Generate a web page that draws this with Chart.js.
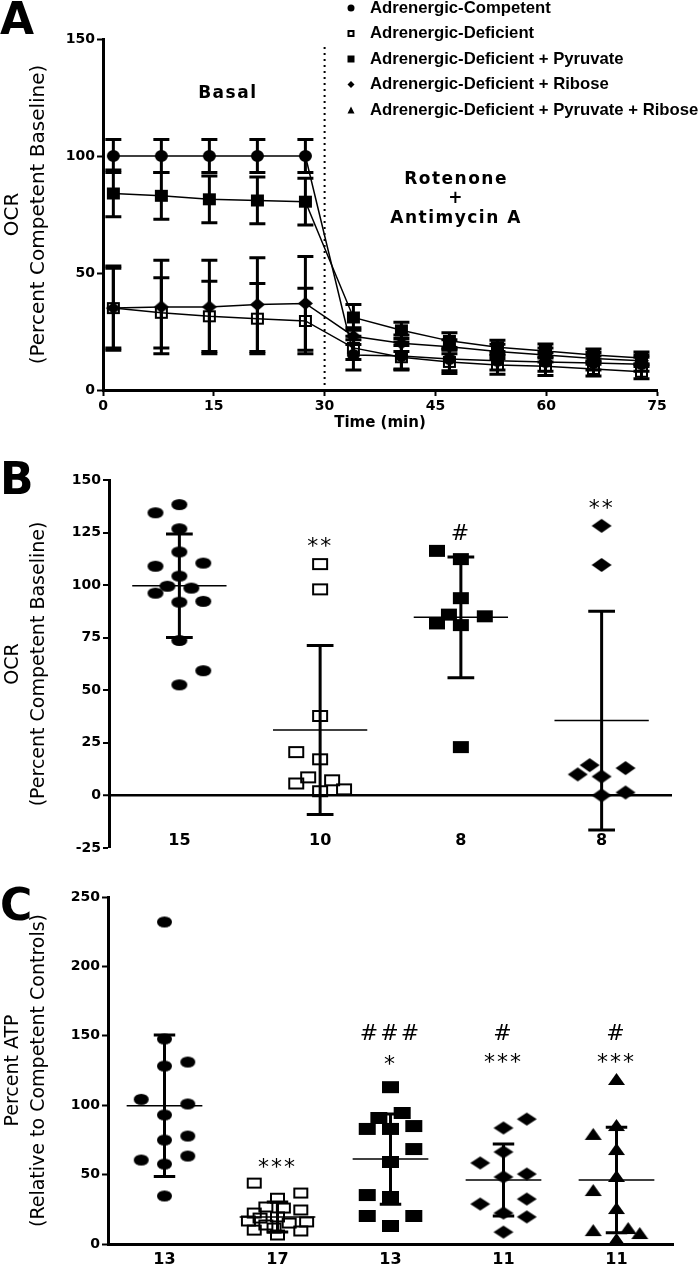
<!DOCTYPE html>
<html lang="en">
<head>
<meta charset="UTF-8">
<title>OCR and ATP in adrenergic-deficient cells</title>
<script src="https://cdn.jsdelivr.net/npm/chart.js@4.4.0/dist/chart.umd.min.js"></script>
<style>
body { margin: 0; background: #fff; }
#wrap { position: relative; width: 700px; height: 1269px; }
canvas { position: absolute; left: 0; }
</style>
</head>
<body>
<div id="wrap">
<canvas id="panelA" width="700" height="435" style="top:0"></canvas>
<canvas id="panelB" width="700" height="425" style="top:435px"></canvas>
<canvas id="panelC" width="700" height="409" style="top:860px"></canvas>
</div>

<script>
// groups (legend of panel A, columns of B and C)
var groupNames = ['Adrenergic-Competent', 'Adrenergic-Deficient', 'Adrenergic-Deficient + Pyruvate',
                  'Adrenergic-Deficient + Ribose', 'Adrenergic-Deficient + Pyruvate + Ribose'];
var groupShapes = ['circle', 'openSquare', 'square', 'diamond', 'triangle'];

// panel A: OCR time course (mean and SD)
var timeMin = [1.4, 7.9, 14.4, 20.9, 27.4, 33.9, 40.4, 46.9, 53.4, 59.9, 66.4, 72.9];
var injectTime = 30;
var ocrCompetent = [100, 100, 100, 100, 100, 15, 14.5, 13.2, 12.5, 12, 11.5, 11];
var sdCompetent  = [7, 7, 7, 7, 7, 6.5, 6, 5, 4, 4, 3, 3];
var ocrDeficient = [35, 33, 31.5, 30.5, 29.5, 18, 14, 12, 10.7, 10.2, 9, 7.8];
var sdDeficient  = [18, 15, 15, 15, 14, 5, 5, 5, 4, 4, 3, 3];
var ocrPyruvate  = [84, 83, 81.5, 81, 80.5, 31, 25.5, 21, 18.3, 16.7, 15, 13.7];
var sdPyruvate   = [10, 10, 10, 10, 10, 5.5, 3.5, 3.5, 3, 3, 2.5, 2.5];
var ocrRibose    = [35, 35.5, 35.5, 36.5, 37, 23, 20, 18.5, 16.5, 15, 13.5, 12.5];
var sdRibose     = [17, 20, 20, 20, 20, 3.6, 3.5, 3, 3, 3, 2.5, 2.5];

// panel B: basal OCR per cell (jitter = column slot inside the group)
var ocrB = [
  [134.4, 138.3, 126.8, 115.8, 109, 110.5, 104.3, 99.5, 98.6, 96.2, 91.9, 92.3, 73.7, 59.3, 52.6],
  [110, 98, 37.8, 20.6, 17.2, 8.6, 5.7, 7.2, 2, 2.9],
  [116.3, 112.4, 93.8, 86, 81.8, 81, 85.2, 23],
  [128.2, 109.6, 14.4, 10, 13, 9, 0, 1.4]
];
var jitterB = [
  [-2, 0, 0, 0, -2, 2, 0, -1, 1, -2, 0, 2, 0, 2, 0],
  [0, 0, 0, -2, 0, -1, -2, 1, 0, 2],
  [-2, 0, 0, -1, -2, 0, 2, 0],
  [0, 0, -1, -2, 2, 0, 0, 2]
];
var meanB = [99.7, 31.1, 84.7, 35.6];
var sdB = [24.6, 40.2, 28.7, 52];
var nB = [15, 10, 8, 8];
var starsB = ['', '**', '#', '**'];
var starsBAt = [0, 120.5, 125.4, 138.8];

// panel C: ATP per cell
var atpC = [
  [232, 147.7, 128.2, 131.1, 104.2, 100.9, 93, 77.8, 74.9, 60.5, 63.4, 57.6, 34.6],
  [43.9, 33, 36.7, 26.7, 24.5, 22.3, 16.6, 15.9, 19.5, 13.7, 15.1, 10, 11.5, 9.4, 6.5, 18.7, 25.9],
  [113, 90.8, 94.4, 82.9, 82.9, 85, 68.4, 59.1, 35.3, 33.9, 20.2, 20.2, 13],
  [90, 83.6, 66.3, 58.4, 50.4, 48.3, 28.8, 32.4, 22.3, 19.5, 8.6],
  [118.9, 85.7, 79.3, 68.4, 49, 38.9, 25.9, 10, 11.5, 7.9, 3.6]
];
var jitterC = [
  [0, 0, 0, 2, -2, 2, 0, 2, 0, -2, 2, 0, 0],
  [-2, 0, 2, -1, 2, -2, -2.5, 2.5, 0, -1, 1, -2, -0.3, 2, 0, -1.5, 0.5],
  [0, -1, 1, -2, 0, 2, 2, 0, -2, 0, -2, 2, 0],
  [2, 0, 0, -2, 2, 0, -2, 2, 0, 2, 0],
  [0, 0, -2, 0, 0, -2, 0, -2, 1, 2, 0]
];
var meanC = [99.6, 19.5, 61.2, 46.1, 46.1];
var sdC = [51, 10.8, 32.5, 26, 38];
var nC = [13, 17, 13, 11, 11];
var hashC = ['', '', '###', '#', '#'];
var hashCAt = [0, 0, 152.7, 152.7, 152.7];
var starsC = ['', '***', '*', '***', '***'];
var starsCAt = [0, 58, 132.6, 134, 134];

Chart.defaults.font.family = 'DejaVu Sans';
Chart.defaults.color = '#000';

var tickFont = { family: 'DejaVu Sans', weight: 'bold', size: 14 };
var titleFont = { family: 'DejaVu Sans', size: 19, lineHeight: 1.37 };
var countFont = { family: 'DejaVu Sans', weight: 'bold', size: 16 };

function drawShape(g, shape, x, y, w, h) {
  g.fillStyle = '#000';
  g.strokeStyle = '#000';
  g.beginPath();
  if (shape === 'circle') {
    g.ellipse(x, y, w / 2, h / 2, 0, 0, Math.PI * 2);
  } else if (shape === 'square') {
    g.rect(x - w / 2, y - h / 2, w, h);
  } else if (shape === 'openSquare') {
    g.rect(x - w / 2 + 1, y - h / 2 + 1, w - 2, h - 2);
  } else if (shape === 'diamond') {
    g.moveTo(x, y - h / 2); g.lineTo(x + w / 2, y); g.lineTo(x, y + h / 2); g.lineTo(x - w / 2, y);
    g.closePath();
  } else {
    g.moveTo(x, y - h / 2); g.lineTo(x + w / 2, y + h / 2); g.lineTo(x - w / 2, y + h / 2);
    g.closePath();
  }
  if (shape === 'openSquare') { g.lineWidth = 2; g.stroke(); } else { g.fill(); }
}

function marker(shape, w, h) {
  var c = document.createElement('canvas');
  c.width = w + 2;
  c.height = h + 2;
  drawShape(c.getContext('2d'), shape, c.width / 2, c.height / 2, w, h);
  return c;
}

function centerText(ctx, text, x, y) {
  var m = ctx.measureText(text);
  ctx.textAlign = 'center';
  ctx.textBaseline = 'alphabetic';
  ctx.fillText(text, x, y + (m.actualBoundingBoxAscent - m.actualBoundingBoxDescent) / 2);
}

function panelLetter(ctx, letter, y) {
  ctx.save();
  ctx.fillStyle = '#000';
  ctx.font = 'bold 44px "DejaVu Sans"';
  ctx.textAlign = 'left';
  ctx.textBaseline = 'alphabetic';
  ctx.fillText(letter, 0, y);
  ctx.restore();
}

function yTicks(step, lo, hi, width) {
  return {
    min: lo, max: hi,
    border: { display: true, color: '#000', width: 3 },
    grid: { drawOnChartArea: false, drawTicks: true, tickLength: 6, tickWidth: 2, tickColor: '#000' },
    ticks: { stepSize: step, font: tickFont, color: '#000', padding: 2 },
    afterFit: function (s) { s.width = width; }
  };
}

// one tick per group, labelled with its n
function groupTicks(counts) {
  return function (s) {
    s.ticks = counts.map(function (n, i) { return { value: i }; });
  };
}

// ---------- panel A ----------
var sizeA = { circle: [13, 12], openSquare: [13, 12], square: [13, 12], diamond: [15, 13], triangle: [13, 12] };
function seriesA(idx, vals, sds) {
  var s = groupShapes[idx];
  return {
    label: groupNames[idx],
    data: vals.map(function (v, i) { return { x: timeMin[i], y: v }; }),
    sd: sds,
    borderColor: '#000', borderWidth: 1.5, tension: 0,
    pointStyle: marker(s, sizeA[s][0], sizeA[s][1]), pointRadius: 6
  };
}

var panelAExtras = {
  id: 'panelAExtras',
  beforeDatasetsDraw: function (chart) {
    var ctx = chart.ctx, xs = chart.scales.x, area = chart.chartArea;
    var px = xs.getPixelForValue(injectTime);
    ctx.save();
    ctx.strokeStyle = '#000';
    ctx.lineWidth = 2;
    ctx.setLineDash([2, 4]);
    ctx.beginPath();
    ctx.moveTo(px, area.top + 8);
    ctx.lineTo(px, area.bottom);
    ctx.stroke();
    ctx.restore();
  },
  afterDatasetsDraw: function (chart) {
    var ctx = chart.ctx, xs = chart.scales.x, ys = chart.scales.y;
    ctx.save();
    ctx.strokeStyle = '#000';
    ctx.lineWidth = 3;
    chart.data.datasets.forEach(function (ds) {
      ds.data.forEach(function (p, i) {
        var px = xs.getPixelForValue(p.x);
        var top = ys.getPixelForValue(p.y + ds.sd[i]);
        var bot = ys.getPixelForValue(p.y - ds.sd[i]);
        ctx.beginPath();
        ctx.moveTo(px, top); ctx.lineTo(px, bot);
        ctx.moveTo(px - 8, top); ctx.lineTo(px + 8, top);
        ctx.moveTo(px - 8, bot); ctx.lineTo(px + 8, bot);
        ctx.stroke();
      });
    });
    ctx.restore();
  },
  afterDraw: function (chart) {
    var ctx = chart.ctx, xs = chart.scales.x, ys = chart.scales.y;
    ctx.save();
    ctx.fillStyle = '#000';
    // legend
    ctx.font = 'bold 16.7px "Liberation Sans"';
    groupNames.forEach(function (name, i) {
      var y = 8 + i * 25.5;
      drawShape(ctx, groupShapes[i], 351, y, 7, 7);
      ctx.fillStyle = '#000';
      ctx.textAlign = 'left';
      ctx.textBaseline = 'middle';
      ctx.fillText(name, 370, y);
    });
    // phase labels
    ctx.font = 'bold 17px "DejaVu Sans"';
    ctx.letterSpacing = '1.5px';
    centerText(ctx, 'Basal', xs.getPixelForValue(16.9), ys.getPixelForValue(126));
    centerText(ctx, 'Rotenone', xs.getPixelForValue(47.8), ys.getPixelForValue(90.6));
    centerText(ctx, '+', xs.getPixelForValue(47.8), ys.getPixelForValue(82.5));
    centerText(ctx, 'Antimycin A', xs.getPixelForValue(47.8), ys.getPixelForValue(73.5));
    ctx.restore();
    panelLetter(ctx, 'A', 34);
  }
};

new Chart(document.getElementById('panelA'), {
  type: 'line',
  data: {
    datasets: [
      seriesA(0, ocrCompetent, sdCompetent),
      seriesA(1, ocrDeficient, sdDeficient),
      seriesA(2, ocrPyruvate, sdPyruvate),
      seriesA(3, ocrRibose, sdRibose)
    ]
  },
  options: {
    responsive: false, animation: false,
    layout: { padding: { left: 0, top: 39, right: 43, bottom: 0 } },
    plugins: { legend: { display: false }, tooltip: { enabled: false } },
    scales: {
      x: {
        type: 'linear', min: 0, max: 75,
        border: { display: true, color: '#000', width: 3 },
        grid: { drawOnChartArea: false, drawTicks: true, tickLength: 6, tickWidth: 2, tickColor: '#000' },
        ticks: { stepSize: 15, font: tickFont, color: '#000', padding: 2, maxRotation: 0 },
        title: { display: true, text: 'Time (min)', font: { family: 'DejaVu Sans', weight: 'bold', size: 15 }, padding: { top: 0, bottom: 3 } },
        afterFit: function (s) { s.height = 45; }
      },
      y: Object.assign(yTicks(50, 0, 150, 103), {
        title: { display: true, text: ['OCR', '(Percent Competent Baseline)'], font: { family: 'DejaVu Sans', size: 20, lineHeight: 1.3 }, padding: { top: 0, bottom: 0 } }
      })
    }
  },
  plugins: [panelAExtras]
});

// ---------- panels B and C ----------
function scatterSets(values, jitter, sizes, slot) {
  return values.map(function (vals, g) {
    var s = groupShapes[g];
    return {
      label: groupNames[g],
      data: vals.map(function (v, i) { return { x: g + jitter[g][i] * slot, y: v }; }),
      pointStyle: marker(s, sizes[s][0], sizes[s][1]),
      pointRadius: 7
    };
  });
}

function meanSdPlugin(id, means, sds, letter, letterY, labels) {
  return {
    id: id,
    afterDatasetsDraw: function (chart) {
      var ctx = chart.ctx, xs = chart.scales.x, ys = chart.scales.y;
      ctx.save();
      ctx.strokeStyle = '#000';
      means.forEach(function (m, g) {
        var cx = xs.getPixelForValue(g);
        var my = ys.getPixelForValue(m);
        var top = ys.getPixelForValue(m + sds[g]);
        var bot = ys.getPixelForValue(m - sds[g]);
        var cap = xs.getPixelForValue(g + 0.095) - cx;
        ctx.lineWidth = 1.5;
        ctx.beginPath();
        ctx.moveTo(xs.getPixelForValue(g - 0.335), my);
        ctx.lineTo(xs.getPixelForValue(g + 0.335), my);
        ctx.stroke();
        ctx.lineWidth = 3;
        ctx.beginPath();
        ctx.moveTo(cx, top); ctx.lineTo(cx, bot);
        ctx.moveTo(cx - cap, top); ctx.lineTo(cx + cap, top);
        ctx.moveTo(cx - cap, bot); ctx.lineTo(cx + cap, bot);
        ctx.stroke();
      });
      ctx.restore();
    },
    afterDraw: function (chart) {
      var ctx = chart.ctx, xs = chart.scales.x, ys = chart.scales.y;
      ctx.save();
      ctx.fillStyle = '#000';
      ctx.font = '22px "DejaVu Sans"';
      ctx.letterSpacing = '2px';
      labels.forEach(function (lab) {
        lab.text.forEach(function (t, g) {
          if (t) centerText(ctx, t, xs.getPixelForValue(g), ys.getPixelForValue(lab.at[g]));
        });
      });
      ctx.restore();
      panelLetter(ctx, letter, letterY);
    }
  };
}

var sizeB = { circle: [16, 11], openSquare: [16, 12], square: [16, 12], diamond: [20, 14], triangle: [16, 12] };
new Chart(document.getElementById('panelB'), {
  type: 'scatter',
  data: { datasets: scatterSets(ocrB, jitterB, sizeB, 0.085) },
  options: {
    responsive: false, animation: false,
    layout: { padding: { left: 0, top: 45, right: 28, bottom: 12 } },
    plugins: { legend: { display: false }, tooltip: { enabled: false } },
    scales: {
      x: {
        type: 'linear', min: -0.5, max: 3.5,
        position: { y: -17 },
        border: { display: false },
        grid: { display: false, drawTicks: false },
        afterBuildTicks: groupTicks(nB),
        ticks: {
          autoSkip: false, maxRotation: 0, padding: 0, font: countFont, color: '#000',
          callback: function (v) { return String(nB[v]); }
        }
      },
      y: Object.assign(yTicks(25, -25, 150, 109), {
        grid: {
          drawOnChartArea: true, drawTicks: true, tickLength: 6, tickWidth: 2, tickColor: '#000',
          color: function (c) { return c.tick && c.tick.value === 0 ? '#000' : 'rgba(0,0,0,0)'; },
          lineWidth: function (c) { return c.tick && c.tick.value === 0 ? 2.5 : 0; }
        },
        title: { display: true, text: ['OCR', '(Percent Competent Baseline)'], font: titleFont, padding: { top: 0, bottom: 0 } }
      })
    }
  },
  plugins: [meanSdPlugin('meanSdB', meanB, sdB, 'B', 59, [{ text: starsB, at: starsBAt }])]
});

var sizeC = { circle: [15, 11], openSquare: [15, 11], square: [17, 12], diamond: [20, 13], triangle: [17, 12] };
new Chart(document.getElementById('panelC'), {
  type: 'scatter',
  data: { datasets: scatterSets(atpC, jitterC, sizeC, 0.103) },
  options: {
    responsive: false, animation: false,
    layout: { padding: { left: 0, top: 37, right: 27, bottom: 0 } },
    plugins: { legend: { display: false }, tooltip: { enabled: false } },
    scales: {
      x: {
        type: 'linear', min: -0.5, max: 4.5,
        border: { display: true, color: '#000', width: 3 },
        grid: { display: false, drawTicks: false },
        afterBuildTicks: groupTicks(nC),
        ticks: {
          autoSkip: false, maxRotation: 0, padding: 6, font: countFont, color: '#000',
          callback: function (v) { return String(nC[v]); }
        },
        afterFit: function (s) { s.height = 25; }
      },
      y: Object.assign(yTicks(50, 0, 250, 108), {
        title: { display: true, text: ['Percent ATP', '(Relative to Competent Controls)'], font: titleFont, padding: { top: 0, bottom: 0 } }
      })
    }
  },
  plugins: [meanSdPlugin('meanSdC', meanC, sdC, 'C', 60, [{ text: hashC, at: hashCAt }, { text: starsC, at: starsCAt }])]
});
</script>
</body>
</html>
